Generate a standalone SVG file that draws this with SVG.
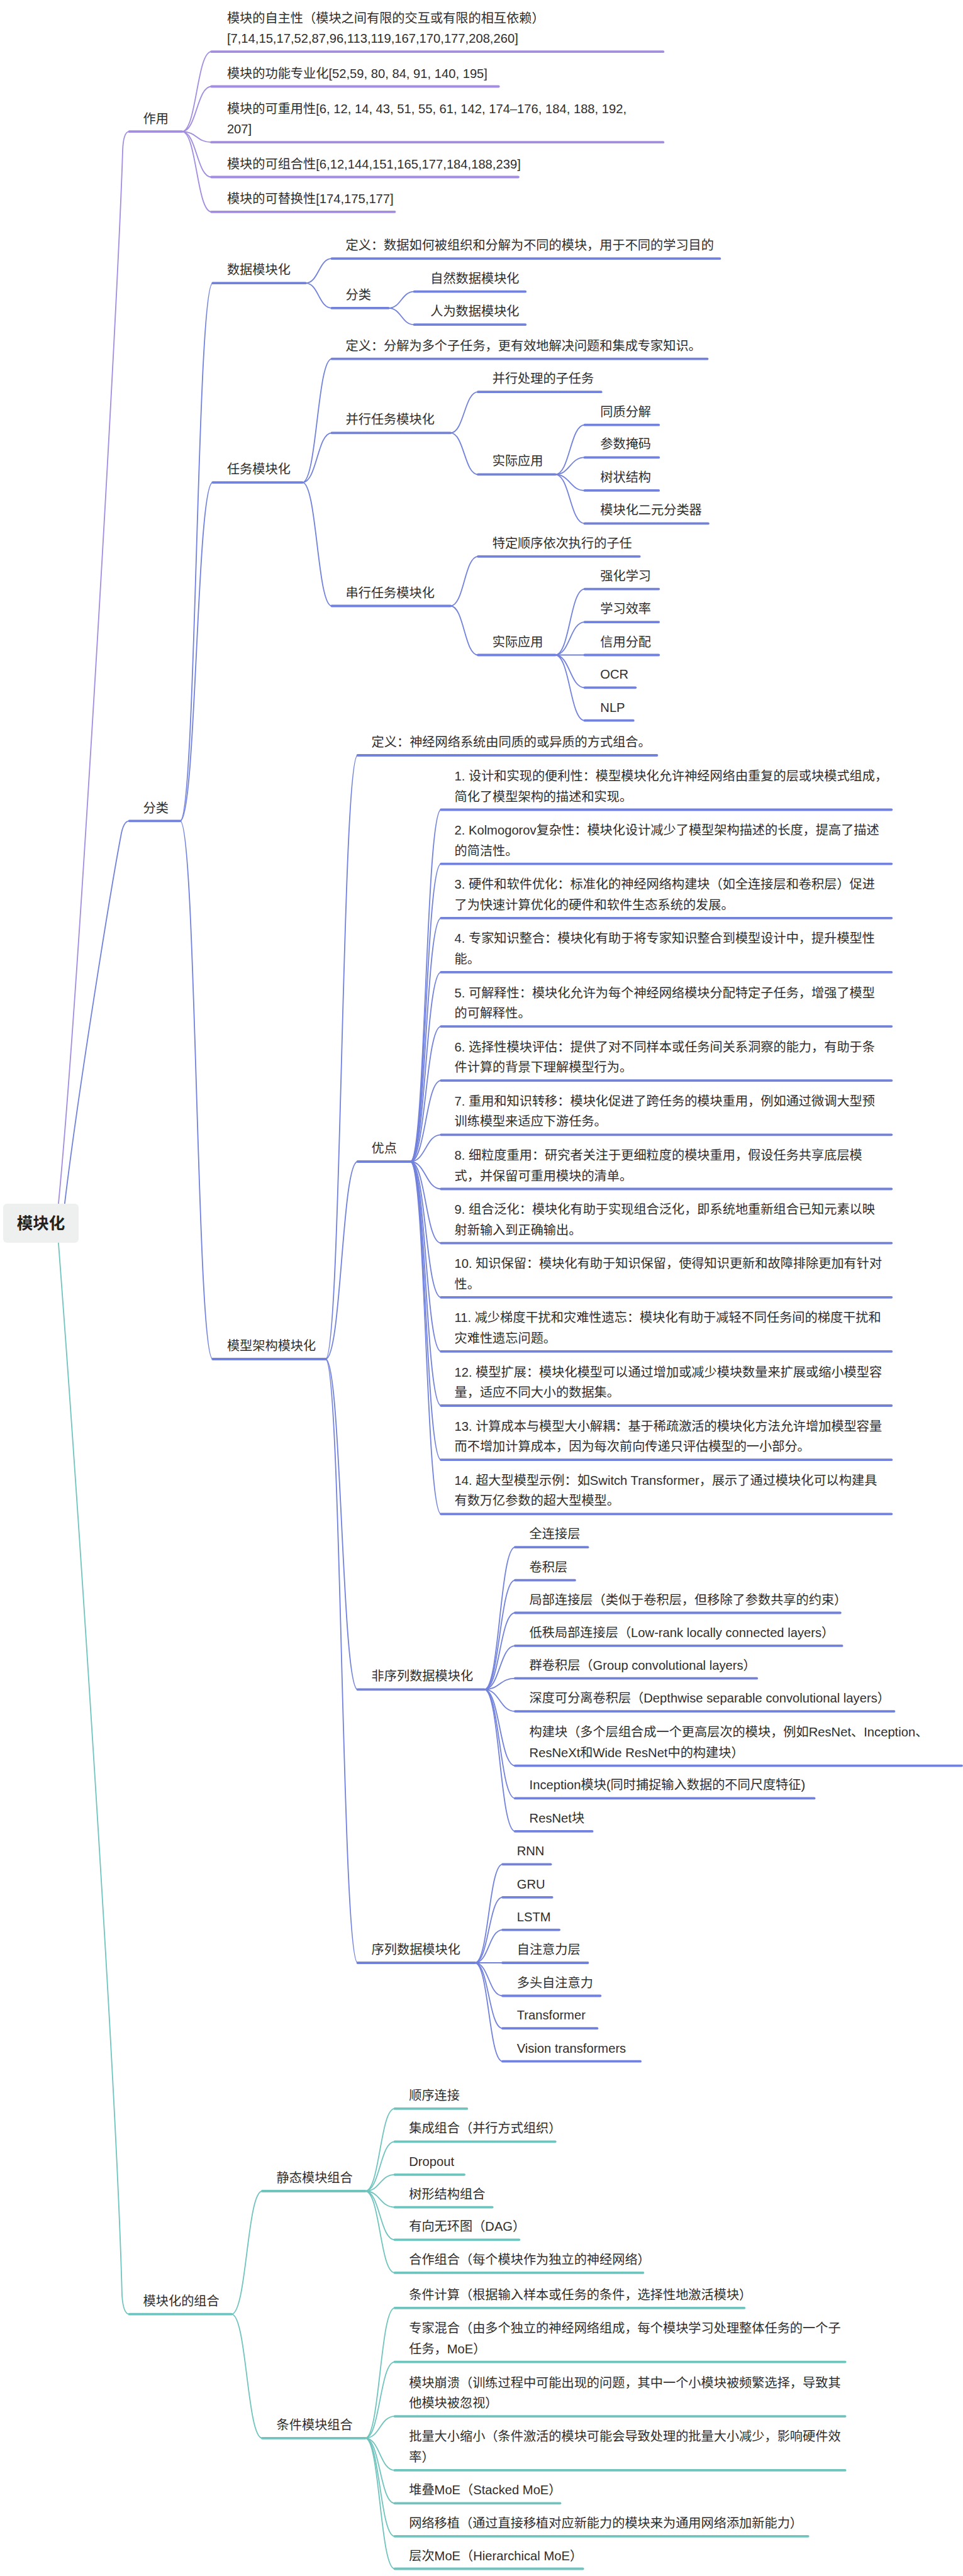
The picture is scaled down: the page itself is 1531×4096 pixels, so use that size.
<svg xmlns="http://www.w3.org/2000/svg" width="1531" height="4096" viewBox="0 0 1531 4096">
<style>
text{font-family:"Liberation Sans","Noto Sans CJK SC",sans-serif;font-size:20.2px;fill:#2e2e2e}
.root{font-size:25.5px;font-weight:bold;fill:#222}
.c1,.c2,.c3{fill:none;stroke-width:1.8;stroke-linecap:round}
.c1{stroke:#a28de0}.c2{stroke:#7282dc}.c3{stroke:#70c4be}
.u1,.u2,.u3{fill:none;stroke-width:3.8;stroke-linecap:round}
.u1{stroke:#a28de0}.u2{stroke:#7282dc}.u3{stroke:#70c4be}
</style>
<rect width="1531" height="4096" fill="#ffffff"/>
<g id="connectors">
<path class="c1" d="M92.9,1914.3 C124,1595 187,500 195,240 Q196,209.2 205.6,209.2"/>
<path class="c2" d="M102.8,1914.3 C124,1737 175,1420 192,1330 Q196,1305.3 205.6,1305.3"/>
<path class="c3" d="M92.9,1976 C120.5,2340 185,3300 194,3650 Q196,3679.7 205.6,3679.7"/>
<path class="c1" d="M289.3,209.2 C312.7,209.2 312.7,82.2 336.1,82.2"/>
<path class="c1" d="M289.3,209.2 C312.7,209.2 312.7,137.5 336.1,137.5"/>
<path class="c1" d="M289.3,209.2 C312.7,209.2 312.7,226.2 336.1,226.2"/>
<path class="c1" d="M289.3,209.2 C312.7,209.2 312.7,281.5 336.1,281.5"/>
<path class="c1" d="M289.3,209.2 C312.7,209.2 312.7,336.8 336.1,336.8"/>
<path class="c2" d="M286.4,1305.3 C312.3,1305.3 312.3,450.2 338.2,450.2"/>
<path class="c2" d="M286.4,1305.3 C312.3,1305.3 312.3,767.1 338.2,767.1"/>
<path class="c2" d="M286.4,1305.3 C312.3,1305.3 312.3,2161 338.2,2161"/>
<path class="c2" d="M485.7,450.2 C506.6,450.2 506.6,411.2 527.5,411.2"/>
<path class="c2" d="M485.7,450.2 C506.6,450.2 506.6,489.9 527.5,489.9"/>
<path class="c2" d="M617.5,489.9 C638.1,489.9 638.1,463.7 658.7,463.7"/>
<path class="c2" d="M617.5,489.9 C638.1,489.9 638.1,516.2 658.7,516.2"/>
<path class="c2" d="M480.7,767.1 C504.1,767.1 504.1,570.7 527.5,570.7"/>
<path class="c2" d="M480.7,767.1 C504.1,767.1 504.1,688.4 527.5,688.4"/>
<path class="c2" d="M480.7,767.1 C504.1,767.1 504.1,963.5 527.5,963.5"/>
<path class="c2" d="M716.1,688.4 C738.05,688.4 738.05,623.2 760,623.2"/>
<path class="c2" d="M716.1,688.4 C738.05,688.4 738.05,754.4 760,754.4"/>
<path class="c2" d="M882.7,754.4 C906.1,754.4 906.1,675.7 929.5,675.7"/>
<path class="c2" d="M882.7,754.4 C906.1,754.4 906.1,727.4 929.5,727.4"/>
<path class="c2" d="M882.7,754.4 C906.1,754.4 906.1,779.9 929.5,779.9"/>
<path class="c2" d="M882.7,754.4 C906.1,754.4 906.1,832.4 929.5,832.4"/>
<path class="c2" d="M716.1,963.5 C738.05,963.5 738.05,884.8 760,884.8"/>
<path class="c2" d="M716.1,963.5 C738.05,963.5 738.05,1041.5 760,1041.5"/>
<path class="c2" d="M882.7,1041.5 C906.1,1041.5 906.1,936.6 929.5,936.6"/>
<path class="c2" d="M882.7,1041.5 C906.1,1041.5 906.1,989.1 929.5,989.1"/>
<path class="c2" d="M882.7,1041.5 L929.5,1041.5"/>
<path class="c2" d="M882.7,1041.5 C906.1,1041.5 906.1,1093.3 929.5,1093.3"/>
<path class="c2" d="M882.7,1041.5 C906.1,1041.5 906.1,1145.7 929.5,1145.7"/>
<path class="c2" d="M517.6,2161 C543.1,2161 543.1,1201 568.6,1201"/>
<path class="c2" d="M517.6,2161 C543.1,2161 543.1,1847 568.6,1847"/>
<path class="c2" d="M517.6,2161 C543.1,2161 543.1,2686.4 568.6,2686.4"/>
<path class="c2" d="M517.6,2161 C543.1,2161 543.1,3121 568.6,3121"/>
<path class="c2" d="M652.3,1847 C676.75,1847 676.75,1287.5 701.2,1287.5"/>
<path class="c2" d="M652.3,1847 C676.75,1847 676.75,1373.6 701.2,1373.6"/>
<path class="c2" d="M652.3,1847 C676.75,1847 676.75,1459.8 701.2,1459.8"/>
<path class="c2" d="M652.3,1847 C676.75,1847 676.75,1545.9 701.2,1545.9"/>
<path class="c2" d="M652.3,1847 C676.75,1847 676.75,1632.1 701.2,1632.1"/>
<path class="c2" d="M652.3,1847 C676.75,1847 676.75,1718.2 701.2,1718.2"/>
<path class="c2" d="M652.3,1847 C676.75,1847 676.75,1804.3 701.2,1804.3"/>
<path class="c2" d="M652.3,1847 C676.75,1847 676.75,1890.5 701.2,1890.5"/>
<path class="c2" d="M652.3,1847 C676.75,1847 676.75,1976.6 701.2,1976.6"/>
<path class="c2" d="M652.3,1847 C676.75,1847 676.75,2062.8 701.2,2062.8"/>
<path class="c2" d="M652.3,1847 C676.75,1847 676.75,2148.9 701.2,2148.9"/>
<path class="c2" d="M652.3,1847 C676.75,1847 676.75,2235 701.2,2235"/>
<path class="c2" d="M652.3,1847 C676.75,1847 676.75,2321.2 701.2,2321.2"/>
<path class="c2" d="M652.3,1847 C676.75,1847 676.75,2407.3 701.2,2407.3"/>
<path class="c2" d="M770,2686.4 C794.45,2686.4 794.45,2460.2 818.9,2460.2"/>
<path class="c2" d="M770,2686.4 C794.45,2686.4 794.45,2512.7 818.9,2512.7"/>
<path class="c2" d="M770,2686.4 C794.45,2686.4 794.45,2564.5 818.9,2564.5"/>
<path class="c2" d="M770,2686.4 C794.45,2686.4 794.45,2616.9 818.9,2616.9"/>
<path class="c2" d="M770,2686.4 C794.45,2686.4 794.45,2668.7 818.9,2668.7"/>
<path class="c2" d="M770,2686.4 C794.45,2686.4 794.45,2721.1 818.9,2721.1"/>
<path class="c2" d="M770,2686.4 C794.45,2686.4 794.45,2807.6 818.9,2807.6"/>
<path class="c2" d="M770,2686.4 C794.45,2686.4 794.45,2859.4 818.9,2859.4"/>
<path class="c2" d="M770,2686.4 C794.45,2686.4 794.45,2911.9 818.9,2911.9"/>
<path class="c2" d="M755.1,3121 C777.05,3121 777.05,2964.3 799,2964.3"/>
<path class="c2" d="M755.1,3121 C777.05,3121 777.05,3016.8 799,3016.8"/>
<path class="c2" d="M755.1,3121 C777.05,3121 777.05,3068.6 799,3068.6"/>
<path class="c2" d="M755.1,3121 L799,3121"/>
<path class="c2" d="M755.1,3121 C777.05,3121 777.05,3173.5 799,3173.5"/>
<path class="c2" d="M755.1,3121 C777.05,3121 777.05,3225.2 799,3225.2"/>
<path class="c2" d="M755.1,3121 C777.05,3121 777.05,3277.7 799,3277.7"/>
<path class="c3" d="M368,3679.7 C392.45,3679.7 392.45,3484 416.9,3484"/>
<path class="c3" d="M368,3679.7 C392.45,3679.7 392.45,3876.8 416.9,3876.8"/>
<path class="c3" d="M580.7,3484 C604.1,3484 604.1,3352.9 627.5,3352.9"/>
<path class="c3" d="M580.7,3484 C604.1,3484 604.1,3405.3 627.5,3405.3"/>
<path class="c3" d="M580.7,3484 C604.1,3484 604.1,3457.8 627.5,3457.8"/>
<path class="c3" d="M580.7,3484 C604.1,3484 604.1,3509.6 627.5,3509.6"/>
<path class="c3" d="M580.7,3484 C604.1,3484 604.1,3561.3 627.5,3561.3"/>
<path class="c3" d="M580.7,3484 C604.1,3484 604.1,3613.8 627.5,3613.8"/>
<path class="c3" d="M580.7,3876.8 C604.1,3876.8 604.1,3669.8 627.5,3669.8"/>
<path class="c3" d="M580.7,3876.8 C604.1,3876.8 604.1,3755.6 627.5,3755.6"/>
<path class="c3" d="M580.7,3876.8 C604.1,3876.8 604.1,3842.1 627.5,3842.1"/>
<path class="c3" d="M580.7,3876.8 C604.1,3876.8 604.1,3927.9 627.5,3927.9"/>
<path class="c3" d="M580.7,3876.8 C604.1,3876.8 604.1,3980.3 627.5,3980.3"/>
<path class="c3" d="M580.7,3876.8 C604.1,3876.8 604.1,4032.8 627.5,4032.8"/>
<path class="c3" d="M580.7,3876.8 C604.1,3876.8 604.1,4084.5 627.5,4084.5"/>
</g>
<g id="root"><rect x="5" y="1914" width="120" height="62" rx="6" fill="#eef0ef"/><text class="root" x="65" y="1954" text-anchor="middle">模块化</text></g>
<g id="n-zuoyong"><path class="u1" d="M205.6,209.2 H289.3"/><text x="227.6" y="196">作用</text></g>
<g id="n-z1"><path class="u1" d="M336.1,82.2 H1054.3"/><text x="360.9" y="35.7">模块的自主性（模块之间有限的交互或有限的相互依赖）</text><text x="360.9" y="68.2">[7,14,15,17,52,87,96,113,119,167,170,177,208,260]</text></g>
<g id="n-z2"><path class="u1" d="M336.1,137.5 H792.7"/><text x="360.9" y="123.5">模块的功能专业化[52,59, 80, 84, 91, 140, 195]</text></g>
<g id="n-z3"><path class="u1" d="M336.1,226.2 H1054.3"/><text x="360.9" y="179.7">模块的可重用性[6, 12, 14, 43, 51, 55, 61, 142, 174–176, 184, 188, 192,</text><text x="360.9" y="212.2">207]</text></g>
<g id="n-z4"><path class="u1" d="M336.1,281.5 H823.9"/><text x="360.9" y="267.5">模块的可组合性[6,12,144,151,165,177,184,188,239]</text></g>
<g id="n-z5"><path class="u1" d="M336.1,336.8 H627.5"/><text x="360.9" y="322.8">模块的可替换性[174,175,177]</text></g>
<g id="n-fenlei"><path class="u2" d="M205.6,1305.3 H286.4"/><text x="227.6" y="1292">分类</text></g>
<g id="n-data"><path class="u2" d="M338.2,450.2 H485.7"/><text x="360.9" y="436.2">数据模块化</text></g>
<g id="n-data-def"><path class="u2" d="M527.5,411.2 H1144.3"/><text x="549.5" y="397.2">定义：数据如何被组织和分解为不同的模块，用于不同的学习目的</text></g>
<g id="n-data-cls"><path class="u2" d="M527.5,489.9 H617.5"/><text x="549.5" y="475.9">分类</text></g>
<g id="n-data-nat"><path class="u2" d="M658.7,463.7 H835.2"/><text x="684.2" y="449.7">自然数据模块化</text></g>
<g id="n-data-man"><path class="u2" d="M658.7,516.2 H835.2"/><text x="684.2" y="502.2">人为数据模块化</text></g>
<g id="n-task"><path class="u2" d="M338.2,767.1 H480.7"/><text x="360.9" y="753.1">任务模块化</text></g>
<g id="n-task-def"><path class="u2" d="M527.5,570.7 H1124.5"/><text x="549.5" y="556.7">定义：分解为多个子任务，更有效地解决问题和集成专家知识。</text></g>
<g id="n-par"><path class="u2" d="M527.5,688.4 H716.1"/><text x="549.5" y="674.4">并行任务模块化</text></g>
<g id="n-par-sub"><path class="u2" d="M760,623.2 H955.7"/><text x="782.7" y="609.2">并行处理的子任务</text></g>
<g id="n-par-app"><path class="u2" d="M760,754.4 H882.7"/><text x="782.7" y="740.4">实际应用</text></g>
<g id="n-par-a1"><path class="u2" d="M929.5,675.7 H1047.2"/><text x="954.3" y="661.7">同质分解</text></g>
<g id="n-par-a2"><path class="u2" d="M929.5,727.4 H1047.2"/><text x="954.3" y="713.4">参数掩码</text></g>
<g id="n-par-a3"><path class="u2" d="M929.5,779.9 H1047.2"/><text x="954.3" y="765.9">树状结构</text></g>
<g id="n-par-a4"><path class="u2" d="M929.5,832.4 H1125.9"/><text x="954.3" y="818.4">模块化二元分类器</text></g>
<g id="n-ser"><path class="u2" d="M527.5,963.5 H716.1"/><text x="549.5" y="949.5">串行任务模块化</text></g>
<g id="n-ser-sub"><path class="u2" d="M760,884.8 H1016.7"/><text x="782.7" y="870.8">特定顺序依次执行的子任</text></g>
<g id="n-ser-app"><path class="u2" d="M760,1041.5 H882.7"/><text x="782.7" y="1027.5">实际应用</text></g>
<g id="n-ser-a1"><path class="u2" d="M929.5,936.6 H1047.2"/><text x="954.3" y="922.6">强化学习</text></g>
<g id="n-ser-a2"><path class="u2" d="M929.5,989.1 H1047.2"/><text x="954.3" y="975.1">学习效率</text></g>
<g id="n-ser-a3"><path class="u2" d="M929.5,1041.5 H1047.2"/><text x="954.3" y="1027.5">信用分配</text></g>
<g id="n-ser-a4"><path class="u2" d="M929.5,1093.3 H1010.3"/><text x="954.3" y="1079.3">OCR</text></g>
<g id="n-ser-a5"><path class="u2" d="M929.5,1145.7 H1006.8"/><text x="954.3" y="1131.7">NLP</text></g>
<g id="n-arch"><path class="u2" d="M338.2,2161 H517.6"/><text x="360.9" y="2147">模型架构模块化</text></g>
<g id="n-arch-def"><path class="u2" d="M568.6,1201 H1044.4"/><text x="590.6" y="1187">定义：神经网络系统由同质的或异质的方式组合。</text></g>
<g id="n-adv"><path class="u2" d="M568.6,1847 H652.3"/><text x="590.6" y="1833">优点</text></g>
<g id="n-adv1"><path class="u2" d="M701.2,1287.5 H1417.3"/><text x="722.5" y="1241">1. 设计和实现的便利性：模型模块化允许神经网络由重复的层或块模式组成，</text><text x="722.5" y="1273.5">简化了模型架构的描述和实现。</text></g>
<g id="n-adv2"><path class="u2" d="M701.2,1373.6 H1417.3"/><text x="722.5" y="1327.1">2. Kolmogorov复杂性：模块化设计减少了模型架构描述的长度，提高了描述</text><text x="722.5" y="1359.6">的简洁性。</text></g>
<g id="n-adv3"><path class="u2" d="M701.2,1459.8 H1417.3"/><text x="722.5" y="1413.3">3. 硬件和软件优化：标准化的神经网络构建块（如全连接层和卷积层）促进</text><text x="722.5" y="1445.8">了为快速计算优化的硬件和软件生态系统的发展。</text></g>
<g id="n-adv4"><path class="u2" d="M701.2,1545.9 H1417.3"/><text x="722.5" y="1499.4">4. 专家知识整合：模块化有助于将专家知识整合到模型设计中，提升模型性</text><text x="722.5" y="1531.9">能。</text></g>
<g id="n-adv5"><path class="u2" d="M701.2,1632.1 H1417.3"/><text x="722.5" y="1585.6">5. 可解释性：模块化允许为每个神经网络模块分配特定子任务，增强了模型</text><text x="722.5" y="1618.1">的可解释性。</text></g>
<g id="n-adv6"><path class="u2" d="M701.2,1718.2 H1417.3"/><text x="722.5" y="1671.7">6. 选择性模块评估：提供了对不同样本或任务间关系洞察的能力，有助于条</text><text x="722.5" y="1704.2">件计算的背景下理解模型行为。</text></g>
<g id="n-adv7"><path class="u2" d="M701.2,1804.3 H1417.3"/><text x="722.5" y="1757.8">7. 重用和知识转移：模块化促进了跨任务的模块重用，例如通过微调大型预</text><text x="722.5" y="1790.3">训练模型来适应下游任务。</text></g>
<g id="n-adv8"><path class="u2" d="M701.2,1890.5 H1417.3"/><text x="722.5" y="1844">8. 细粒度重用：研究者关注于更细粒度的模块重用，假设任务共享底层模</text><text x="722.5" y="1876.5">式，并保留可重用模块的清单。</text></g>
<g id="n-adv9"><path class="u2" d="M701.2,1976.6 H1417.3"/><text x="722.5" y="1930.1">9. 组合泛化：模块化有助于实现组合泛化，即系统地重新组合已知元素以映</text><text x="722.5" y="1962.6">射新输入到正确输出。</text></g>
<g id="n-adv10"><path class="u2" d="M701.2,2062.8 H1417.3"/><text x="722.5" y="2016.3">10. 知识保留：模块化有助于知识保留，使得知识更新和故障排除更加有针对</text><text x="722.5" y="2048.8">性。</text></g>
<g id="n-adv11"><path class="u2" d="M701.2,2148.9 H1417.3"/><text x="722.5" y="2102.4">11. 减少梯度干扰和灾难性遗忘：模块化有助于减轻不同任务间的梯度干扰和</text><text x="722.5" y="2134.9">灾难性遗忘问题。</text></g>
<g id="n-adv12"><path class="u2" d="M701.2,2235 H1417.3"/><text x="722.5" y="2188.5">12. 模型扩展：模块化模型可以通过增加或减少模块数量来扩展或缩小模型容</text><text x="722.5" y="2221">量，适应不同大小的数据集。</text></g>
<g id="n-adv13"><path class="u2" d="M701.2,2321.2 H1417.3"/><text x="722.5" y="2274.7">13. 计算成本与模型大小解耦：基于稀疏激活的模块化方法允许增加模型容量</text><text x="722.5" y="2307.2">而不增加计算成本，因为每次前向传递只评估模型的一小部分。</text></g>
<g id="n-adv14"><path class="u2" d="M701.2,2407.3 H1417.3"/><text x="722.5" y="2360.8">14. 超大型模型示例：如Switch Transformer，展示了通过模块化可以构建具</text><text x="722.5" y="2393.3">有数万亿参数的超大型模型。</text></g>
<g id="n-nonseq"><path class="u2" d="M568.6,2686.4 H770"/><text x="590.6" y="2672.4">非序列数据模块化</text></g>
<g id="n-ns1"><path class="u2" d="M818.9,2460.2 H934.5"/><text x="841.6" y="2446.2">全连接层</text></g>
<g id="n-ns2"><path class="u2" d="M818.9,2512.7 H913.9"/><text x="841.6" y="2498.7">卷积层</text></g>
<g id="n-ns3"><path class="u2" d="M818.9,2564.5 H1335.8"/><text x="841.6" y="2550.5">局部连接层（类似于卷积层，但移除了参数共享的约束）</text></g>
<g id="n-ns4"><path class="u2" d="M818.9,2616.9 H1338.6"/><text x="841.6" y="2602.9">低秩局部连接层（Low-rank locally connected layers）</text></g>
<g id="n-ns5"><path class="u2" d="M818.9,2668.7 H1203.2"/><text x="841.6" y="2654.7">群卷积层（Group convolutional layers）</text></g>
<g id="n-ns6"><path class="u2" d="M818.9,2721.1 H1421.5"/><text x="841.6" y="2707.1">深度可分离卷积层（Depthwise separable convolutional layers）</text></g>
<g id="n-ns7"><path class="u2" d="M818.9,2807.6 H1529"/><text x="841.6" y="2761.1">构建块（多个层组合成一个更高层次的模块，例如ResNet、Inception、</text><text x="841.6" y="2793.6">ResNeXt和Wide ResNet中的构建块）</text></g>
<g id="n-ns8"><path class="u2" d="M818.9,2859.4 H1294.6"/><text x="841.6" y="2845.4">Inception模块(同时捕捉输入数据的不同尺度特征)</text></g>
<g id="n-ns9"><path class="u2" d="M818.9,2911.9 H941.6"/><text x="841.6" y="2897.9">ResNet块</text></g>
<g id="n-seq"><path class="u2" d="M568.6,3121 H755.1"/><text x="590.6" y="3107">序列数据模块化</text></g>
<g id="n-s1"><path class="u2" d="M799,2964.3 H875.6"/><text x="821.7" y="2950.3">RNN</text></g>
<g id="n-s2"><path class="u2" d="M799,3016.8 H877.7"/><text x="821.7" y="3002.8">GRU</text></g>
<g id="n-s3"><path class="u2" d="M799,3068.6 H889.1"/><text x="821.7" y="3054.6">LSTM</text></g>
<g id="n-s4"><path class="u2" d="M799,3121 H934.5"/><text x="821.7" y="3107">自注意力层</text></g>
<g id="n-s5"><path class="u2" d="M799,3173.5 H954.3"/><text x="821.7" y="3159.5">多头自注意力</text></g>
<g id="n-s6"><path class="u2" d="M799,3225.2 H949.4"/><text x="821.7" y="3211.2">Transformer</text></g>
<g id="n-s7"><path class="u2" d="M799,3277.7 H1018.1"/><text x="821.7" y="3263.7">Vision transformers</text></g>
<g id="n-comb"><path class="u3" d="M205.6,3679.7 H368"/><text x="227.6" y="3666">模块化的组合</text></g>
<g id="n-static"><path class="u3" d="M416.9,3484 H580.7"/><text x="439.6" y="3470">静态模块组合</text></g>
<g id="n-st1"><path class="u3" d="M627.5,3352.9 H742.3"/><text x="650.2" y="3338.9">顺序连接</text></g>
<g id="n-st2"><path class="u3" d="M627.5,3405.3 H882.7"/><text x="650.2" y="3391.3">集成组合（并行方式组织）</text></g>
<g id="n-st3"><path class="u3" d="M627.5,3457.8 H738.1"/><text x="650.2" y="3443.8">Dropout</text></g>
<g id="n-st4"><path class="u3" d="M627.5,3509.6 H782.7"/><text x="650.2" y="3495.6">树形结构组合</text></g>
<g id="n-st5"><path class="u3" d="M627.5,3561.3 H825.3"/><text x="650.2" y="3547.3">有向无环图（DAG）</text></g>
<g id="n-st6"><path class="u3" d="M627.5,3613.8 H1022.4"/><text x="650.2" y="3599.8">合作组合（每个模块作为独立的神经网络）</text></g>
<g id="n-cond"><path class="u3" d="M416.9,3876.8 H580.7"/><text x="439.6" y="3862.8">条件模块组合</text></g>
<g id="n-c1"><path class="u3" d="M627.5,3669.8 H1183.3"/><text x="650.2" y="3655.8">条件计算（根据输入样本或任务的条件，选择性地激活模块）</text></g>
<g id="n-c2"><path class="u3" d="M627.5,3755.6 H1343.6"/><text x="650.2" y="3709.1">专家混合（由多个独立的神经网络组成，每个模块学习处理整体任务的一个子</text><text x="650.2" y="3741.6">任务，MoE）</text></g>
<g id="n-c3"><path class="u3" d="M627.5,3842.1 H1343.6"/><text x="650.2" y="3795.6">模块崩溃（训练过程中可能出现的问题，其中一个小模块被频繁选择，导致其</text><text x="650.2" y="3828.1">他模块被忽视）</text></g>
<g id="n-c4"><path class="u3" d="M627.5,3927.9 H1343.6"/><text x="650.2" y="3881.4">批量大小缩小（条件激活的模块可能会导致处理的批量大小减少，影响硬件效</text><text x="650.2" y="3913.9">率）</text></g>
<g id="n-c5"><path class="u3" d="M627.5,3980.3 H890.5"/><text x="650.2" y="3966.3">堆叠MoE（Stacked MoE）</text></g>
<g id="n-c6"><path class="u3" d="M627.5,4032.8 H1284.7"/><text x="650.2" y="4018.8">网络移植（通过直接移植对应新能力的模块来为通用网络添加新能力）</text></g>
<g id="n-c7"><path class="u3" d="M627.5,4084.5 H926.7"/><text x="650.2" y="4070.5">层次MoE（Hierarchical MoE）</text></g>
</svg>
